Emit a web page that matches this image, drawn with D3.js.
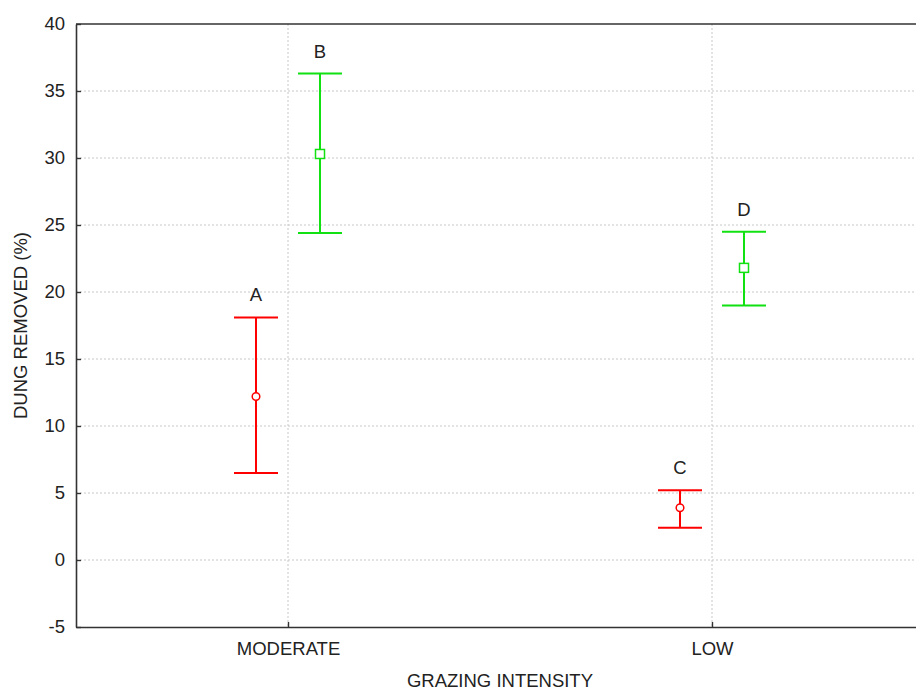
<!DOCTYPE html>
<html>
<head>
<meta charset="utf-8">
<script src="https://cdn.jsdelivr.net/npm/d3@7"></script>
<style>
  html, body { margin: 0; padding: 0; background: #fff; }
  svg { display: block; }
  text { font-family: "Liberation Sans", Arial, sans-serif; fill: #222; }
</style>
</head>
<body>
<svg id="chart" width="916" height="691"></svg>
<script>
// Grazing intensity groups on the x axis
const categories = ["MODERATE", "LOW"];
const yTicks = [-5, 0, 5, 10, 15, 20, 25, 30, 35, 40];

// Two series per group: mean with lower / upper interval
const redSeries = {
  color: "#ff0000", shape: "circle", side: -1,
  labels: ["A", "C"],
  mean:  [12.2, 3.9],
  lower: [6.5, 2.4],
  upper: [18.1, 5.2]
};
const greenSeries = {
  color: "#11e011", shape: "square", side: 1,
  labels: ["B", "D"],
  mean:  [30.3, 21.8],
  lower: [24.4, 19.0],
  upper: [36.3, 24.5]
};
const seriesList = [redSeries, greenSeries];

const W = 916, H = 691;
const margin = { left: 76, top: 24, right: -8, bottom: 64 };
const plotW = W - margin.left - margin.right;
const plotH = H - margin.top - margin.bottom;
const fontSize = 18.5;

const svg = d3.select("#chart");
const g = svg.append("g").attr("transform", `translate(${margin.left},${margin.top})`);

const x = d3.scalePoint().domain(categories).range([0, plotW]).padding(0.5);
const y = d3.scaleLinear().domain([-5, 40]).range([plotH, 0]);
const offset = 32;

// grid lines (dotted)
g.append("g").selectAll("line").data(yTicks.filter(d => d > -5 && d < 40)).join("line")
  .attr("x1", 0).attr("x2", plotW)
  .attr("y1", d => y(d)).attr("y2", d => y(d))
  .attr("stroke", "#c8c8c8").attr("stroke-width", 1).attr("stroke-dasharray", "2,2");
g.append("g").selectAll("line").data(categories).join("line")
  .attr("x1", d => x(d)).attr("x2", d => x(d))
  .attr("y1", 0).attr("y2", plotH)
  .attr("stroke", "#c8c8c8").attr("stroke-width", 1).attr("stroke-dasharray", "2,2");

// axes
const yAxis = d3.axisLeft(y).tickValues(yTicks).tickFormat(d => String(d))
  .tickSizeInner(-5).tickSizeOuter(0).tickPadding(11);
const yG = g.append("g").call(yAxis);
const xAxis = d3.axisBottom(x).tickSizeInner(-5).tickSizeOuter(0).tickPadding(15);
const xG = g.append("g").attr("transform", `translate(0,${plotH})`).call(xAxis);
[yG, xG].forEach(a => {
  a.select(".domain").attr("stroke", "#333").attr("stroke-width", 1.6);
  a.selectAll(".tick line").attr("stroke", "#333").attr("stroke-width", 1.4);
  a.selectAll(".tick text").attr("font-size", fontSize).attr("fill", "#222")
    .style("font-family", "'Liberation Sans', Arial, sans-serif");
});
// top border
g.append("line").attr("x1", 0).attr("x2", plotW).attr("y1", 0).attr("y2", 0)
  .attr("stroke", "#333").attr("stroke-width", 1.6);

// error bars with markers and letter labels
const capHalf = 22;
seriesList.forEach(s => {
  const sg = g.append("g");
  categories.forEach((c, i) => {
    const cx = x(c) + s.side * offset;
    sg.append("line").attr("x1", cx).attr("x2", cx)
      .attr("y1", y(s.lower[i])).attr("y2", y(s.upper[i]))
      .attr("stroke", s.color).attr("stroke-width", 2);
    [s.lower[i], s.upper[i]].forEach(v => {
      sg.append("line").attr("x1", cx - capHalf).attr("x2", cx + capHalf)
        .attr("y1", y(v)).attr("y2", y(v))
        .attr("stroke", s.color).attr("stroke-width", 2);
    });
    if (s.shape === "circle") {
      sg.append("circle").attr("cx", cx).attr("cy", y(s.mean[i])).attr("r", 3.8)
        .attr("fill", "#fff").attr("stroke", s.color).attr("stroke-width", 1.5);
    } else {
      sg.append("rect").attr("x", cx - 4.5).attr("y", y(s.mean[i]) - 4.5)
        .attr("width", 9).attr("height", 9)
        .attr("fill", "#fff").attr("stroke", s.color).attr("stroke-width", 1.5);
    }
    sg.append("text").attr("x", cx).attr("y", y(s.upper[i]) - 16)
      .attr("text-anchor", "middle").attr("font-size", fontSize).text(s.labels[i]);
  });
});

// axis titles
svg.append("text").attr("x", margin.left + plotW / 2).attr("y", 687)
  .attr("text-anchor", "middle").attr("font-size", fontSize).text("GRAZING INTENSITY");
svg.append("text")
  .attr("transform", `translate(27,${margin.top + plotH / 2}) rotate(-90)`)
  .attr("text-anchor", "middle").attr("font-size", fontSize).text("DUNG REMOVED (%)");
</script>
</body>
</html>
